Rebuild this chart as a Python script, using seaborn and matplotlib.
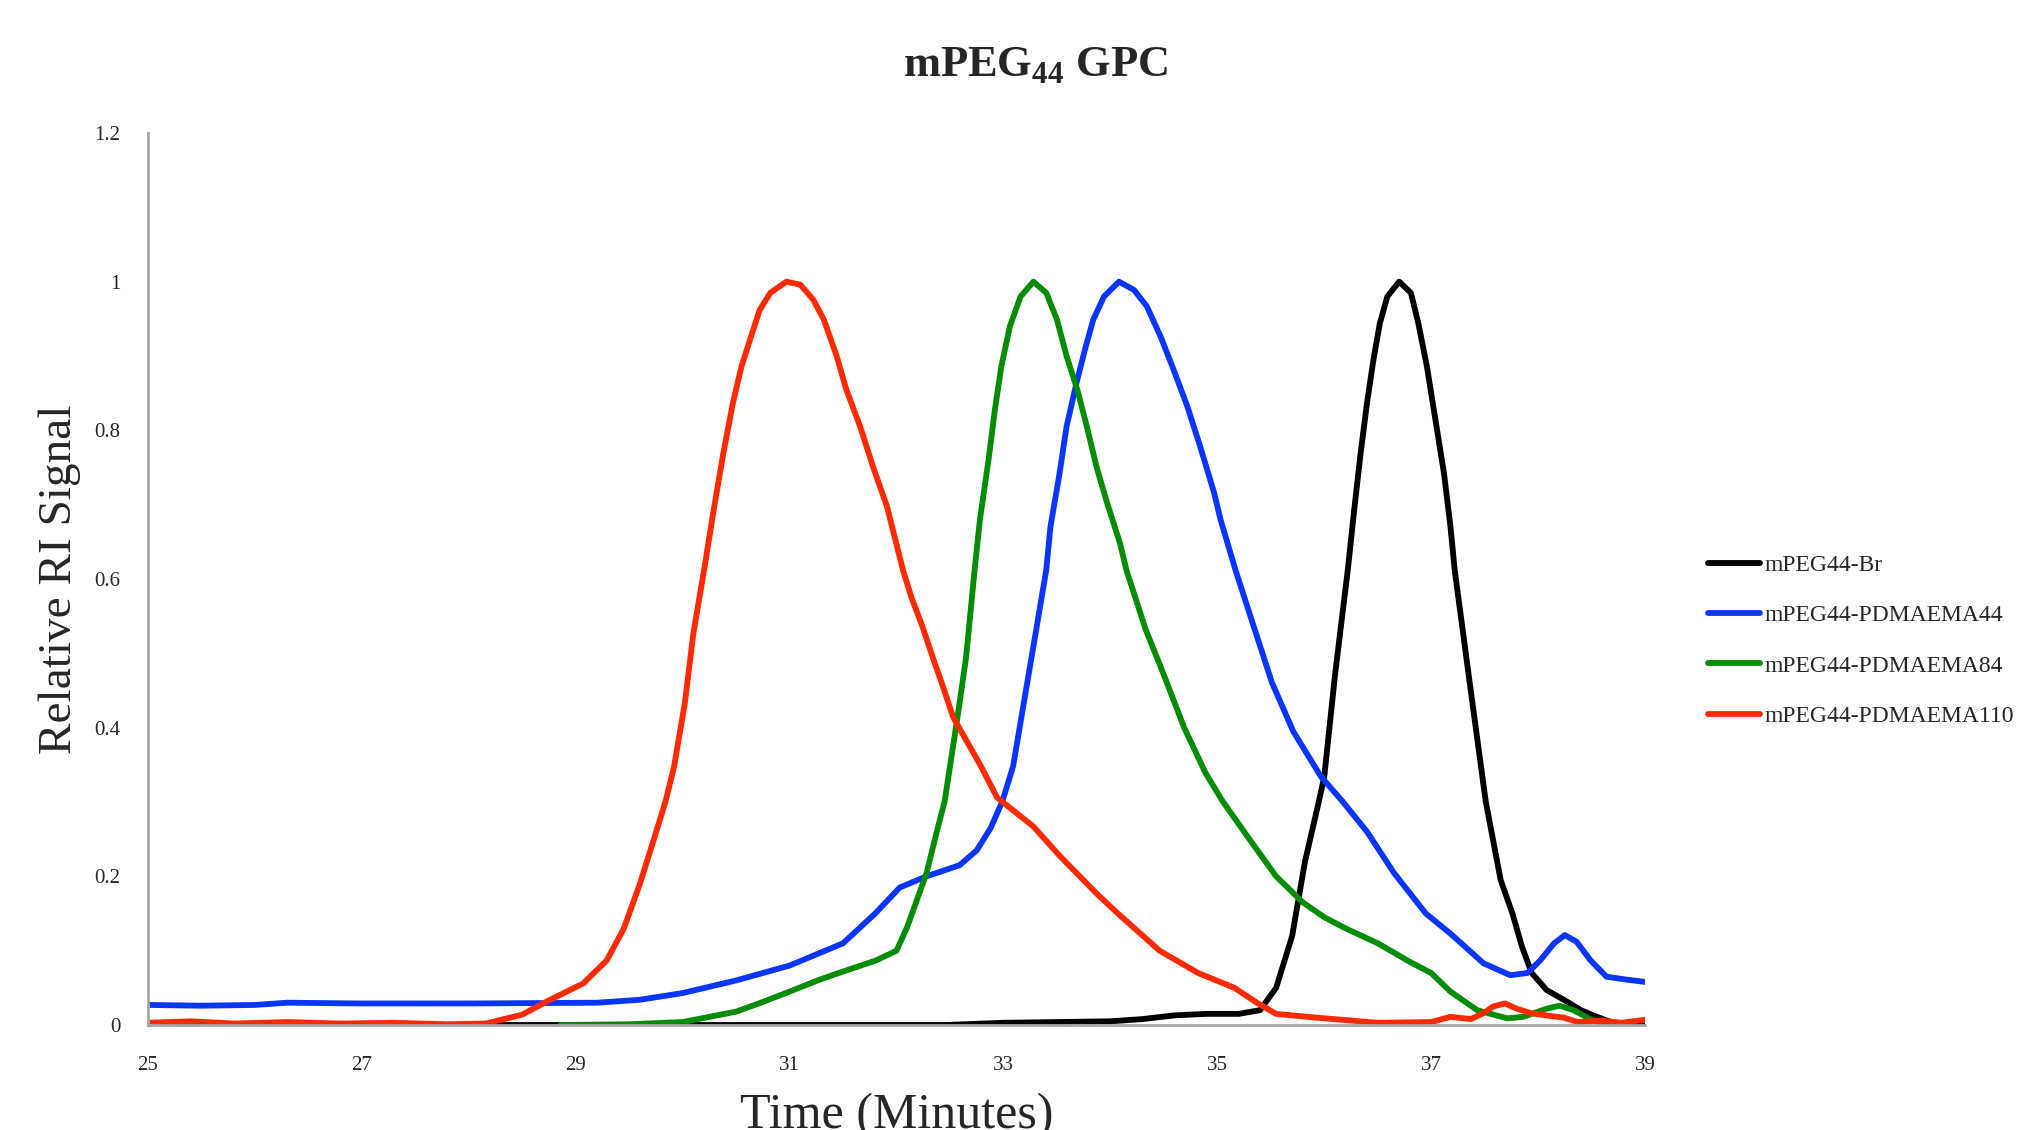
import pandas as pd
import seaborn as sns
import matplotlib.pyplot as plt
from matplotlib.ticker import FuncFormatter

# GPC traces (time in minutes, relative RI signal)
br_time = [25, 32.45, 33.0, 33.5, 34.0, 34.3, 34.6, 34.9, 35.2, 35.4, 35.55, 35.7, 35.82,
           35.95, 36.0, 36.1, 36.22, 36.28, 36.34, 36.40, 36.46, 36.52, 36.59, 36.70,
           36.81, 36.88, 36.96, 37.04, 37.12, 37.18, 37.22, 37.37, 37.51, 37.65, 37.76,
           37.85, 37.94, 38.08, 38.24, 38.4, 38.55, 38.7, 38.8, 39]
br_signal = [0, 0, 0.003, 0.004, 0.005, 0.008, 0.013, 0.015, 0.015, 0.02, 0.05, 0.12, 0.22,
             0.301, 0.334, 0.47, 0.612, 0.693, 0.769, 0.837, 0.895, 0.944, 0.98, 1.0,
             0.985, 0.944, 0.886, 0.814, 0.742, 0.671, 0.612, 0.45, 0.301, 0.195, 0.15,
             0.105, 0.07, 0.047, 0.034, 0.02, 0.011, 0.003, 0, 0]

p44_time = [25, 25.5, 26, 26.3, 27, 28, 29.2, 29.6, 30.0, 30.5, 31.0, 31.5, 31.8, 32.03,
            32.28, 32.59, 32.75, 32.88, 32.99, 33.09, 33.19, 33.29, 33.40, 33.44, 33.52,
            33.59, 33.69, 33.77, 33.84, 33.94, 34.08, 34.22, 34.34, 34.47, 34.59, 34.72,
            34.84, 34.97, 35.03, 35.17, 35.35, 35.51, 35.71, 35.97, 36.17, 36.4, 36.65,
            36.95, 37.18, 37.49, 37.74, 37.9, 38.02, 38.15, 38.25, 38.36, 38.49, 38.64,
            38.83, 39]
p44_signal = [0.027, 0.026, 0.027, 0.03, 0.029, 0.029, 0.03, 0.034, 0.043, 0.06, 0.08,
              0.11, 0.15, 0.185, 0.2, 0.215, 0.235, 0.265, 0.301, 0.348, 0.433, 0.518,
              0.612, 0.671, 0.738, 0.805, 0.868, 0.913, 0.949, 0.98, 1.0, 0.989, 0.967,
              0.926, 0.882, 0.832, 0.778, 0.716, 0.68, 0.612, 0.532, 0.461, 0.395, 0.334,
              0.301, 0.26, 0.205, 0.15, 0.123, 0.083, 0.067, 0.07, 0.087, 0.11, 0.121,
              0.112, 0.087, 0.065, 0.061, 0.058]

p84_time = [28.86, 29.5, 30.0, 30.5, 30.73, 31.0, 31.28, 31.5, 31.81, 32.0, 32.10, 32.28,
            32.38, 32.45, 32.57, 32.65, 32.73, 32.78, 32.86, 32.92, 32.98, 33.06, 33.16,
            33.28, 33.40, 33.50, 33.59, 33.69, 33.78, 33.87, 33.97, 34.09, 34.15, 34.33,
            34.50, 34.69, 34.89, 35.05, 35.3, 35.55, 35.8, 36.0, 36.2, 36.5, 36.8, 37.0,
            37.18, 37.43, 37.71, 37.86, 38.08, 38.2, 38.33, 38.5, 38.65]
p84_signal = [0, 0.001, 0.004, 0.018, 0.03, 0.045, 0.061, 0.072, 0.087, 0.1, 0.132, 0.204,
              0.262, 0.301, 0.414, 0.494, 0.612, 0.68, 0.76, 0.828, 0.886, 0.94, 0.98,
              1.0, 0.985, 0.949, 0.9, 0.855, 0.805, 0.751, 0.702, 0.648, 0.612, 0.532,
              0.471, 0.4, 0.339, 0.301, 0.25, 0.2, 0.165, 0.145, 0.13, 0.11, 0.085, 0.07,
              0.045, 0.02, 0.009, 0.011, 0.022, 0.026, 0.02, 0.007, 0]

p110_time = [25, 25.4, 25.8, 26.3, 26.8, 27.3, 27.8, 28.16, 28.5, 28.72, 29.07, 29.29,
             29.45, 29.6, 29.72, 29.84, 29.92, 30.02, 30.10, 30.20, 30.29, 30.38, 30.47,
             30.55, 30.63, 30.72, 30.82, 30.97, 31.10, 31.22, 31.32, 31.44, 31.53, 31.66,
             31.78, 31.91, 32.06, 32.14, 32.24, 32.34, 32.43, 32.53, 32.66, 32.79, 32.94,
             33.28, 33.53, 33.87, 34.07, 34.46, 34.82, 35.16, 35.37, 35.55, 35.92, 36.5,
             37.0, 37.18, 37.37, 37.49, 37.58, 37.69, 37.8, 37.93, 38.12, 38.24, 38.37,
             38.59, 38.78, 39]
p110_signal = [0.003, 0.005, 0.002, 0.004, 0.002, 0.003, 0.001, 0.002, 0.014, 0.031,
               0.056, 0.087, 0.13, 0.19, 0.245, 0.301, 0.348, 0.433, 0.527, 0.612, 0.693,
               0.769, 0.837, 0.886, 0.922, 0.962, 0.985, 1.0, 0.996, 0.976, 0.949, 0.9,
               0.855, 0.805, 0.751, 0.698, 0.612, 0.575, 0.537, 0.494, 0.457, 0.414,
               0.381, 0.348, 0.306, 0.267, 0.227, 0.177, 0.15, 0.1, 0.07, 0.05, 0.03,
               0.015, 0.01, 0.003, 0.004, 0.011, 0.008, 0.016, 0.025, 0.029, 0.022, 0.016,
               0.012, 0.01, 0.004, 0.006, 0.003, 0.007]

labels = ["mPEG44-Br", "mPEG44-PDMAEMA44", "mPEG44-PDMAEMA84", "mPEG44-PDMAEMA110"]
colors = ["#000000", "#0a35ff", "#058c05", "#ff2a00"]

frames = []
for lab, t, s in zip(labels, [br_time, p44_time, p84_time, p110_time],
                     [br_signal, p44_signal, p84_signal, p110_signal]):
    frames.append(pd.DataFrame({"Time": t, "Signal": s, "Sample": lab}))
df = pd.concat(frames, ignore_index=True)

sns.set_style("white")
plt.rcParams["font.family"] = ["Liberation Serif", "DejaVu Serif"]
plt.rcParams["mathtext.fontset"] = "custom"
plt.rcParams["mathtext.rm"] = "Liberation Serif"
plt.rcParams["mathtext.bf"] = "Liberation Serif:bold"

fig = plt.figure(figsize=(20.42, 11.3), dpi=100)
ax = fig.add_axes([0.0725, 0.0929, 0.7331, 0.7894])

sns.lineplot(data=df, x="Time", y="Signal", hue="Sample", hue_order=labels,
             palette=colors, estimator=None, sort=False, linewidth=4.2, ax=ax)

ax.set_xlim(25, 39)
ax.set_ylim(0, 1.2)
ax.set_xticks([25, 27, 29, 31, 33, 35, 37, 39])
ax.set_yticks([0, 0.2, 0.4, 0.6, 0.8, 1.0, 1.2])
ax.yaxis.set_major_formatter(FuncFormatter(lambda v, p: "%g" % v))
ax.tick_params(axis="both", length=0, labelsize=15)
ax.tick_params(axis="x", pad=22)
ax.tick_params(axis="y", pad=20)

for side in ["top", "right"]:
    ax.spines[side].set_visible(False)
for side in ["left", "bottom"]:
    ax.spines[side].set_color("#a6a6a6")
    ax.spines[side].set_linewidth(2)

ax.set_xlabel("Time (Minutes)", fontsize=36)
ax.xaxis.set_label_coords(0.5, -0.076)
ax.xaxis.label.set_va("top")
ax.set_ylabel("Relative RI Signal", fontsize=34)
ax.yaxis.set_label_coords(-0.045, 0.5)

fig.text(0.507, 0.942, "mPEG$_{\\mathbf{44}}$ GPC", fontsize=32, fontweight="bold",
         ha="center", va="center")

ax.get_legend().remove()
handles, labs = ax.get_legend_handles_labels()
fig.legend(handles, labs, loc="center left", bbox_to_anchor=(0.826, 0.433),
           frameon=False, fontsize=17, handlelength=2.2, handletextpad=0.2,
           labelspacing=1.22)

fig.savefig("out.png", dpi=100)
